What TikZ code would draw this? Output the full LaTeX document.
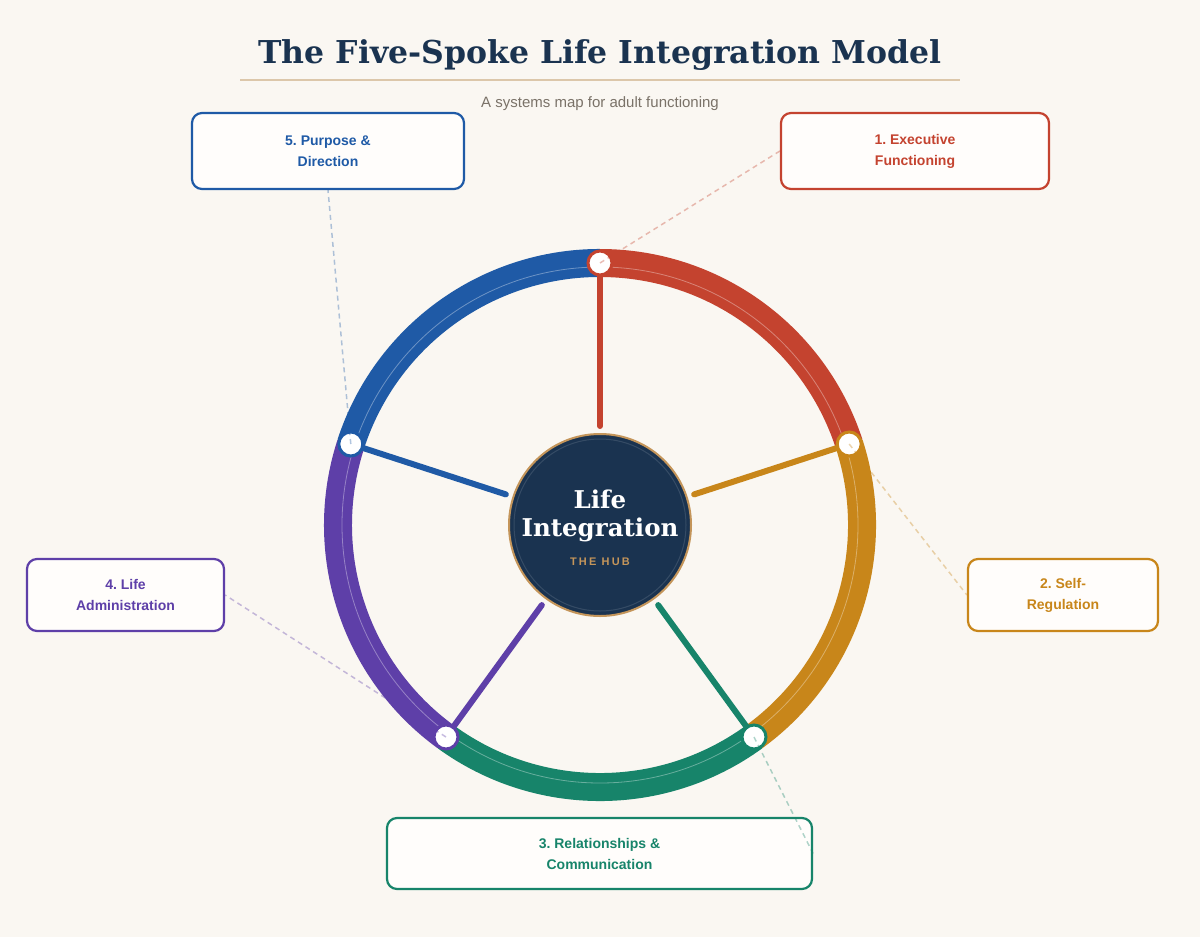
\documentclass[tikz,border=0pt]{standalone}
\usepackage{fontspec}
\setmainfont{Liberation Sans}
\newfontfamily\titlefont{DejaVu Serif}
\usetikzlibrary{positioning}
\definecolor{paper}{HTML}{FAF7F2}
\definecolor{navy}{HTML}{1A3350}
\definecolor{hubtan}{HTML}{C4955A}
\definecolor{rulecol}{HTML}{DCC7AA}
\definecolor{subgrey}{HTML}{7A7268}
\definecolor{boxfill}{HTML}{FFFDFB}
\definecolor{execred}{HTML}{C4432F}
\definecolor{selfgold}{HTML}{C8861A}
\definecolor{relgreen}{HTML}{17846A}
\definecolor{adminpurple}{HTML}{5E3FA8}
\definecolor{purposeblue}{HTML}{1F5AA6}
\frenchspacing

\begin{document}
\begin{tikzpicture}[x=1pt,y=1pt,
  box/.style={draw,line width=2.2pt,fill=boxfill,rounded corners=10pt,align=center,
              inner sep=0pt,font=\bfseries\fontsize{14}{21}\selectfont},
  rim/.style={line width=28pt},
  spoke/.style={line width=6pt,line cap=round,shorten <=7pt},
  joint/.style={circle,draw,line width=3pt,fill=white,minimum size=24pt,inner sep=0pt},
  lead/.style={line width=1.5pt,dash pattern=on 5pt off 4pt,draw opacity=0.35}]

\fill[paper] (0,0) rectangle (1200,-937);
\useasboundingbox (0,0) rectangle (1200,-937);

% heading
\node[font=\titlefont\bfseries\fontsize{31.5}{38}\selectfont,text=navy] (title) at (600,-55)
  {The Five-Spoke Life Integration Model};
\coordinate (rl) at (240,-80); \coordinate (rr) at (960,-80);
\draw[rulecol,line width=1.2pt] (rl) -- (rr);
\node[font=\fontsize{15}{18}\selectfont,text=subgrey] (sub) at (600,-104)
  {A systems map for adult functioning};

% hub
\node[circle,fill=navy,draw=hubtan,line width=2pt,minimum size=182pt] (hub) at (600,-525) {};
\draw[white,opacity=0.12,line width=1pt] (hub.center) circle[radius=86];
\node[font=\titlefont\bfseries\fontsize{24.5}{28}\selectfont,text=white,align=center] (hubtxt)
  at (600,-516) {Life\\Integration};
\node[font=\bfseries\fontsize{11}{13}\selectfont\addfontfeatures{LetterSpace=20},text=hubtan]
  (hubsub) at (600,-562) {THE HUB};

% wheel
\coordinate (c1) at (600,-263);
\coordinate (c2) at (849.2,-444);
\coordinate (c3) at (754,-737);
\coordinate (c4) at (446,-737);
\coordinate (c5) at (350.8,-444);
\draw[rim,execred] (c1) arc[start angle=90,end angle=18,radius=262];
\draw[rim,selfgold] (c2) arc[start angle=18,end angle=-54,radius=262];
\draw[rim,relgreen] (c3) arc[start angle=-54,end angle=-126,radius=262];
\draw[rim,adminpurple] (c4) arc[start angle=-126,end angle=-198,radius=262];
\draw[rim,purposeblue] (c5) arc[start angle=162,end angle=90,radius=262];
\draw[white,opacity=0.35,line width=0.8pt] (hub.center) circle[radius=258];

\draw[spoke,execred] (hub) -- (c1);
\draw[spoke,selfgold] (hub) -- (c2);
\draw[spoke,relgreen] (hub) -- (c3);
\draw[spoke,adminpurple] (hub) -- (c4);
\draw[spoke,purposeblue] (hub) -- (c5);

\node[joint,draw=execred] (n1) at (c1) {};
\node[joint,draw=selfgold] (n2) at (c2) {};
\node[joint,draw=relgreen] (n3) at (c3) {};
\node[joint,draw=adminpurple] (n4) at (c4) {};
\node[joint,draw=purposeblue] (n5) at (c5) {};

% domain boxes
\node[box,draw=execred,text=execred,minimum width=268,minimum height=76] (b1)
  at (915,-151) {1. Executive\\Functioning};
\node[box,draw=selfgold,text=selfgold,minimum width=190,minimum height=72] (b2)
  at (1063,-595) {2. Self-\\Regulation};
\node[box,draw=relgreen,text=relgreen,minimum width=425,minimum height=71] (b3)
  at (599.5,-853.5) {3. Relationships \&\\Communication};
\node[box,draw=adminpurple,text=adminpurple,minimum width=197,minimum height=72] (b4)
  at (125.5,-595) {4. Life\\Administration};
\node[box,draw=purposeblue,text=purposeblue,minimum width=272,minimum height=76] (b5)
  at (328,-151) {5. Purpose \&\\Direction};

\draw[lead,execred] (n1.center) -- (b1.west);
\draw[lead,selfgold] (n2.center) -- (b2.west);
\draw[lead,relgreen] (n3.center) -- (b3.east);
\draw[lead,adminpurple] (n4.center) -- (b4.east);
\draw[lead,purposeblue] (n5.center) -- (b5.south);
\end{tikzpicture}
\end{document}
